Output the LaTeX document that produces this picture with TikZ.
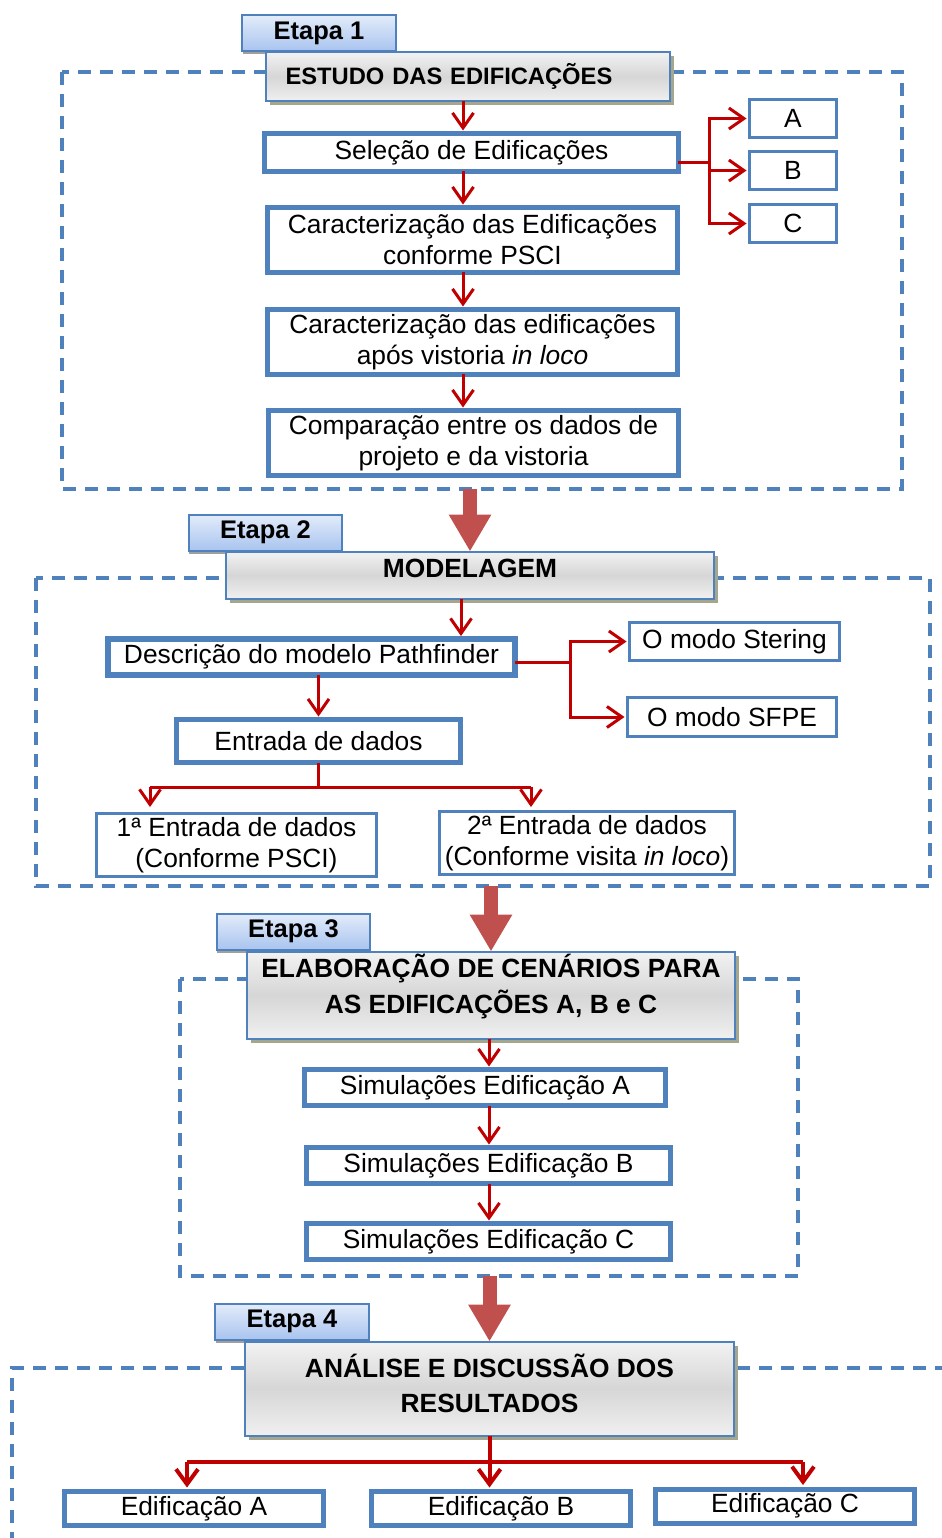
\documentclass[tikz,border=0pt]{standalone}
\usepackage{fontspec}
\setmainfont{Liberation Sans}
\usetikzlibrary{arrows.meta,shadows,calc}

\definecolor{boxblue}{HTML}{4F81BD}
\definecolor{linkred}{HTML}{C00000}
\definecolor{bigred}{HTML}{C0504D}
\definecolor{shadowgray}{HTML}{A4A78E}
\definecolor{tabtop}{HTML}{E3ECFA}
\definecolor{tabbottom}{HTML}{A9C4EF}

\tikzset{
  every node/.style={inner sep=0pt, outer sep=0pt},
  stepframe/.style={draw=boxblue, line width=0.07cm, dash pattern=on 0.26cm off 0.18cm},
  tabbox/.style={draw=boxblue, line width=0.04cm, top color=tabtop, bottom color=tabbottom,
    minimum width=3.08cm, minimum height=0.72cm, font=\fontsize{14.5}{17}\selectfont\bfseries,
    drop shadow={shadow xshift=0.01cm, shadow yshift=-0.06cm, fill=gray!75, opacity=1}},
  headbox/.style={draw=boxblue, line width=0.04cm, top color=gray!10, bottom color=gray!12, middle color=gray!32,
    align=center, font=\fontsize{15}{20}\selectfont\bfseries,
    drop shadow={shadow xshift=0.08cm, shadow yshift=-0.08cm, fill=shadowgray, opacity=1}},
  mainbox/.style={draw=boxblue, line width=0.1cm, fill=white, align=center, font=\fontsize{15}{17.6}\selectfont},
  subbox/.style={mainbox, line width=0.06cm},
  wire/.style={draw=linkred, line width=0.06cm},
  link/.style={wire, shorten >=0.06cm, -{Straight Barb[length=0.3cm,width=0.42cm]}},
  wirefour/.style={draw=linkred, line width=0.08cm},
  linkfour/.style={wirefour, shorten >=0.08cm, -{Straight Barb[length=0.3cm,width=0.44cm]}},
  bigarrow/.style={draw=bigred, line width=0.28cm, -{Triangle[length=0.74cm,width=0.8cm]}},
}

\begin{document}
\begin{tikzpicture}[x=0.02cm, y=-0.02cm]
  \useasboundingbox (0,0) rectangle (942,1538);
  \clip (0,0) rectangle (942,1538);

  % Etapa 1
  \coordinate (frameA) at (902,489);
  \draw[stepframe] (62,72) rectangle (frameA);
  \node[tabbox] (tab1) at (319,33) {Etapa 1};
  \node[headbox, minimum width=8.08cm, minimum height=0.98cm, text width=7.3cm, align=left,
    font=\fontsize{13.5}{16}\selectfont\bfseries] (head1) at (468,76.5) {ESTUDO DAS EDIFICAÇÕES};

  \node[mainbox, minimum width=8.28cm, minimum height=0.76cm] (sel) at (471.5,152.5) {Seleção de Edificações};
  \node[mainbox, minimum width=8.2cm, minimum height=1.3cm] (carA) at (472.5,240) {Caracterização das Edificações\\conforme PSCI};
  \node[mainbox, minimum width=8.2cm, minimum height=1.3cm] (carB) at (472.5,342) {Caracterização das edificações\\após vistoria \textit{in loco}};
  \node[mainbox, minimum width=8.2cm, minimum height=1.3cm] (comp) at (473.5,443) {Comparação entre os dados de\\projeto e da vistoria};

  \node[subbox, minimum width=1.74cm, minimum height=0.76cm] (bldA) at (793,118.5) {A};
  \node[subbox, minimum width=1.74cm, minimum height=0.76cm] (bldB) at (793,170.5) {B};
  \node[subbox, minimum width=1.74cm, minimum height=0.76cm] (bldC) at (793,223.5) {C};

  \coordinate (colA) at (463,0);
  \draw[link] (colA |- head1.south) -- (colA |- sel.north);
  \draw[link] (colA |- sel.south) -- (colA |- carA.north);
  \draw[link] (colA |- carA.south) -- (colA |- carB.north);
  \draw[link] (colA |- carB.south) -- (colA |- comp.north);

  \coordinate (forkA) at (709,162);
  \draw[wire] (sel.east |- forkA) -- (forkA);
  \draw[link] (forkA) |- (bldA.west);
  \draw[link] (forkA) |- (bldB.west);
  \draw[link] (forkA) |- (bldC.west);

  % Etapa 2
  \coordinate (frameB) at (930,886);
  \draw[stepframe] (36,578) rectangle (frameB);
  \node[tabbox] (tab2) at (265.5,532.5) {Etapa 2};
  \node[headbox, minimum width=9.78cm, minimum height=0.94cm, text depth=0.28cm] (head2) at (470,575) {MODELAGEM};
  \draw[bigarrow] (head2.north |- frameA) -- (head2.north);

  \node[mainbox, line width=0.12cm, minimum width=8.14cm, minimum height=0.72cm] (desc) at (311.5,657) {Descrição do modelo Pathfinder};
  \node[subbox, minimum width=4.2cm, minimum height=0.76cm] (stering) at (734.5,641.5) {O modo Stering};
  \node[subbox, minimum width=4.18cm, minimum height=0.78cm] (sfpe) at (732,717) {O modo SFPE};
  \node[mainbox, minimum width=5.68cm, minimum height=0.86cm] (input) at (318.5,741) {Entrada de dados};
  \node[subbox, minimum width=5.6cm, minimum height=1.26cm] (inputA) at (236.5,845) {1ª Entrada de dados\\(Conforme PSCI)};
  \node[subbox, minimum width=5.9cm, minimum height=1.26cm] (inputB) at (587,843) {2ª Entrada de dados\\(Conforme visita \textit{in loco})};

  \coordinate (colB) at (461,0);
  \draw[link] (colB |- head2.south) -- (colB |- desc.north);
  \draw[link] (input.north |- desc.south) -- (input.north);

  \coordinate (forkB) at (570,662);
  \draw[wire] (desc.east |- forkB) -- (forkB);
  \draw[link] (forkB) |- (stering.west);
  \draw[link] (forkB) |- (sfpe.west);

  \coordinate (busBw) at (150,787);
  \coordinate (busBe) at (531,787);
  \draw[wire] (input.south) -- (input.south |- busBw);
  \draw[wire] (busBw) -- (busBe);
  \draw[link, shorten >=0.13cm] (busBw) -- (busBw |- inputA.north);
  \draw[link, shorten >=0.09cm] (busBe) -- (busBe |- inputB.north);

  % Etapa 3
  \coordinate (frameC) at (798,1276);
  \draw[stepframe] (180,979) rectangle (frameC);
  \node[tabbox] (tab3) at (293.5,931.5) {Etapa 3};
  \node[headbox, minimum width=9.78cm, minimum height=1.74cm, text depth=0.45cm] (head3) at (491,995) {ELABORAÇÃO DE CENÁRIOS PARA\\AS EDIFICAÇÕES A, B e C};
  \draw[bigarrow] (head3.north |- frameB) -- (head3.north);

  \node[mainbox, minimum width=7.22cm, minimum height=0.72cm] (simA) at (485,1087.5) {Simulações Edificação A};
  \node[mainbox, minimum width=7.28cm, minimum height=0.72cm] (simB) at (488.5,1165.5) {Simulações Edificação B};
  \node[mainbox, minimum width=7.28cm, minimum height=0.72cm] (simC) at (488.5,1241.5) {Simulações Edificação C};

  \coordinate (colC) at (489,0);
  \draw[link] (colC |- head3.south) -- (colC |- simA.north);
  \draw[link] (colC |- simA.south) -- (colC |- simB.north);
  \draw[link] (colC |- simB.south) -- (colC |- simC.north);

  % Etapa 4
  \draw[stepframe] (12,1545) -- (12,1368) -- (950,1368);
  \node[tabbox] (tab4) at (292,1321.5) {Etapa 4};
  \node[headbox, minimum width=9.8cm, minimum height=1.88cm, text depth=0.2cm] (head4) at (489.5,1388.5) {ANÁLISE E DISCUSSÃO DOS\\RESULTADOS};
  \draw[bigarrow] (head4.north |- frameC) -- (head4.north);

  \node[mainbox, minimum width=5.18cm, minimum height=0.68cm] (resA) at (194,1508.5) {Edificação A};
  \node[mainbox, minimum width=5.18cm, minimum height=0.68cm] (resB) at (501,1508.5) {Edificação B};
  \node[mainbox, minimum width=5.18cm, minimum height=0.68cm] (resC) at (785,1506) {Edificação C};

  \coordinate (busDw) at (187,1462);
  \coordinate (busDe) at (803,1462);
  \draw[wirefour] (head4.south) -- (head4.south |- busDw);
  \draw[wirefour] (busDw) -- (busDe);
  \draw[linkfour] (busDw) -- (busDw |- resA.north);
  \draw[linkfour] (head4.south |- busDw) -- (head4.south |- resB.north);
  \draw[linkfour] (busDe) -- (busDe |- resC.north);
\end{tikzpicture}
\end{document}
